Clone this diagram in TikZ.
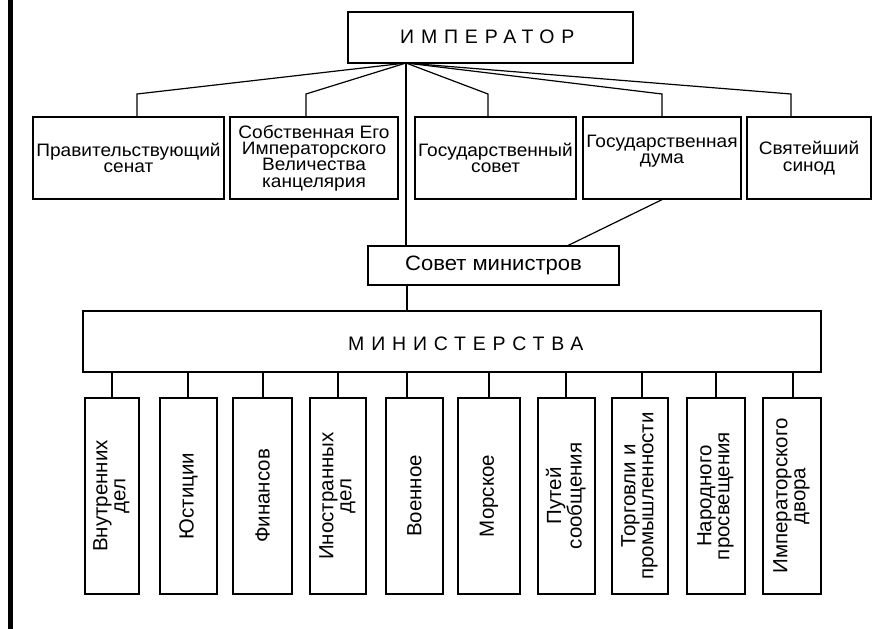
\documentclass[tikz,border=0pt]{standalone}
\usepackage{fontspec}
\setmainfont{Liberation Sans}
\newfontfamily\spacedfont[LetterSpace=35]{Liberation Sans}
\newfontfamily\widefont[FakeStretch=1.06]{Liberation Sans}
\usepackage{graphicx}
\begin{document}
\begin{tikzpicture}[x=1pt,y=-1pt,
  box/.style={draw, line width=1.3pt, rectangle, inner sep=0pt, align=center},
  link/.style={line width=1.2pt},
  rowfont/.style={font=\widefont\fontsize{18}{16.3}\selectfont},
  minfont/.style={font=\fontsize{20.5}{18}\selectfont},
  bigfont/.style={font=\spacedfont\fontsize{19.5}{20}\selectfont}
]
\useasboundingbox (0,0) rectangle (895,629);
\fill[black] (8,0) rectangle (13.3,629);

% top
\node[box, minimum width=285, minimum height=51] (emp) at (490.5,37.5) {};
\node[bigfont, inner sep=0pt, anchor=base west] at (400,43.5) {ИМПЕРАТОР};
\coordinate (hub) at (406,63);

% first row
\node[box, rowfont, minimum width=191, minimum height=82] (b1) at (128.5,158) {Правительствующий\\сенат};
\node[box, rowfont, minimum width=168, minimum height=82] (b2) at (314,158) {Собственная Его\\Императорского\\Величества\\канцелярия};
\node[box, rowfont, minimum width=161, minimum height=82] (b3) at (495.5,158) {Государственный\\совет};
\node[box, minimum width=158, minimum height=82,
  label={[rowfont, align=center, yshift=7pt]center:Государственная\\дума}] (b4) at (662,158) {};
\node[box, rowfont, minimum width=124, minimum height=82] (b5) at (809,158) {Святейший\\синод};

\coordinate (k1) at (137,94);
\coordinate (k2) at (306,94);
\coordinate (k3) at (488,94);
\coordinate (k4) at (662,94);
\coordinate (k5) at (791,94);

\draw[link] (hub) -- (k1) -- (k1 |- b1.north);
\draw[link] (hub) -- (k2) -- (k2 |- b2.north);
\draw[link] (hub) -- (k3) -- (k3 |- b3.north);
\draw[link] (hub) -- (k4) -- (k4 |- b4.north);
\draw[link] (hub) -- (k5) -- (k5 |- b5.north);

% council of ministers
\node[box, font=\widefont\fontsize{20.8}{21}\selectfont, minimum width=251, minimum height=39] (sov) at (493.5,265.5) {Совет министров};
\coordinate (sd) at (567,246);
\draw[link] (hub) -- (hub |- sov.north);
\draw[link] (b4.south) -- (sd);

% ministries
\node[box, minimum width=738, minimum height=61] (mins) at (452,341.5) {};
\node[bigfont, inner sep=0pt, anchor=base west] at (348,350) {МИНИСТЕРСТВА};
\coordinate (sb) at (407,285);
\draw[link] (sb) -- (sb |- mins.north);

\def\mrow{496}
\node[box, minfont, minimum width=54, minimum height=196] (m1) at (112,\mrow) {\rotatebox{90}{\begin{tabular}{@{}c@{}}Внутренних\\дел\end{tabular}}};
\node[box, minfont, minimum width=57, minimum height=196] (m2) at (188.5,\mrow) {\rotatebox{90}{Юстиции}};
\node[box, minfont, minimum width=59, minimum height=196] (m3) at (262.5,\mrow) {\rotatebox{90}{Финансов}};
\node[box, minfont, minimum width=56, minimum height=196] (m4) at (338,\mrow) {\rotatebox{90}{\begin{tabular}{@{}c@{}}Иностранных\\дел\end{tabular}}};
\node[box, minfont, minimum width=57, minimum height=196] (m5) at (414.5,\mrow) {\rotatebox{90}{Военное}};
\node[box, minfont, minimum width=62, minimum height=196] (m6) at (489,\mrow) {\rotatebox{90}{Морское}};
\node[box, minfont, minimum width=57, minimum height=196] (m7) at (566.5,\mrow) {\rotatebox{90}{\begin{tabular}{@{}c@{}}Путей\\сообщения\end{tabular}}};
\node[box, minfont, minimum width=56, minimum height=196] (m8) at (640,\mrow) {\rotatebox{90}{\begin{tabular}{@{}c@{}}Торговли и\\промышленности\end{tabular}}};
\node[box, minfont, minimum width=58, minimum height=196] (m9) at (716,\mrow) {\rotatebox{90}{\begin{tabular}{@{}c@{}}Народного\\просвещения\end{tabular}}};
\node[box, minfont, minimum width=58, minimum height=196] (m10) at (792,\mrow) {\rotatebox{90}{\begin{tabular}{@{}c@{}}Императорского\\двора\end{tabular}}};

\foreach \i/\xx in {1/112,2/188,3/263,4/338,5/407,6/489,7/566,8/642,9/716,10/793}{
  \draw[link] (\xx,0 |- mins.south) -- (\xx,0 |- m\i.north);
}
\end{tikzpicture}
\end{document}
